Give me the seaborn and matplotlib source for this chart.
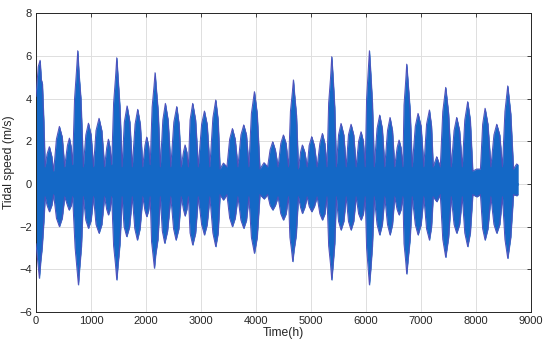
import matplotlib
matplotlib.use("Agg")
import matplotlib.pyplot as plt
import seaborn as sns
import pandas as pd

# envolvente superior: (hora, velocidad m/s) - valles, hombros y picos
upper_env = [
    (0, 4.1), (40, 5.5), (73, 5.8), (95, 4.9), (115, 4.7), (140, 3.0), (165, 0.8),
    (200, 1.4), (242, 1.75), (285, 1.3), (320, 0.6),
    (370, 2.1), (424, 2.7), (475, 2.2), (520, 0.8),
    (570, 1.8), (606, 2.15), (640, 1.7), (665, 0.9),
    (700, 4.0), (735, 5.3), (758, 6.25), (780, 5.2), (815, 4.0), (860, 0.8),
    (905, 2.3), (952, 2.85), (1000, 2.3), (1045, 0.8),
    (1090, 2.5), (1145, 3.08), (1195, 2.5), (1245, 0.8),
    (1285, 1.7), (1315, 2.1), (1345, 1.7), (1375, 0.9),
    (1410, 3.8), (1445, 5.0), (1467, 5.92), (1490, 5.0), (1525, 3.6), (1565, 0.8),
    (1605, 2.9), (1655, 3.66), (1705, 2.9), (1750, 0.8),
    (1800, 2.8), (1848, 3.5), (1895, 2.8), (1940, 0.8),
    (1980, 1.8), (2012, 2.2), (2045, 1.8), (2075, 0.9),
    (2110, 3.6), (2145, 4.6), (2164, 5.22), (2185, 4.5), (2220, 3.4), (2260, 0.8),
    (2305, 3.0), (2351, 3.78), (2400, 3.0), (2450, 0.8),
    (2505, 2.9), (2558, 3.63), (2600, 2.8), (2640, 0.8),
    (2680, 1.5), (2709, 1.83), (2740, 1.5), (2770, 0.8),
    (2800, 3.0), (2848, 3.78), (2900, 3.0), (2950, 0.8),
    (3010, 2.8), (3061, 3.42), (3110, 2.8), (3160, 0.8),
    (3215, 3.1), (3267, 3.94), (3310, 3.0), (3345, 0.7),
    (3406, 0.98), (3470, 0.8),
    (3520, 2.1), (3570, 2.6), (3620, 2.1), (3670, 0.8),
    (3725, 2.3), (3776, 2.77), (3825, 2.3), (3870, 0.8),
    (3915, 3.3), (3970, 4.33), (4020, 3.3), (4070, 0.7),
    (4145, 1.0), (4210, 0.8),
    (4255, 1.6), (4303, 1.98), (4350, 1.6), (4400, 0.8),
    (4450, 1.9), (4497, 2.3), (4545, 1.9), (4590, 0.8),
    (4625, 3.4), (4660, 4.3), (4679, 4.88), (4700, 4.2), (4735, 3.2), (4770, 0.7),
    (4810, 1.5), (4842, 1.83), (4885, 1.5), (4930, 0.8),
    (4965, 1.8), (5012, 2.22), (5060, 1.8), (5110, 0.8),
    (5160, 1.9), (5206, 2.37), (5250, 1.9), (5290, 0.8),
    (5320, 3.8), (5355, 5.0), (5376, 5.97), (5400, 5.0), (5430, 3.6), (5460, 0.8),
    (5500, 2.3), (5545, 2.84), (5595, 2.3), (5640, 0.8),
    (5680, 2.3), (5727, 2.8), (5775, 2.3), (5820, 0.8),
    (5865, 2.0), (5909, 2.45), (5950, 2.0), (5985, 0.8),
    (6010, 4.0), (6040, 5.3), (6061, 6.25), (6085, 5.2), (6115, 3.8), (6150, 0.8),
    (6200, 2.6), (6248, 3.23), (6295, 2.6), (6340, 0.8),
    (6390, 2.5), (6436, 3.12), (6480, 2.5), (6520, 0.8),
    (6565, 1.7), (6600, 2.06), (6635, 1.7), (6670, 0.8),
    (6690, 3.7), (6720, 4.8), (6739, 5.62), (6765, 4.7), (6800, 3.5), (6840, 0.8),
    (6895, 2.7), (6945, 3.31), (7000, 2.7), (7050, 0.8),
    (7100, 2.8), (7152, 3.47), (7190, 2.7), (7220, 0.8),
    (7285, 1.28), (7350, 0.8),
    (7395, 3.4), (7448, 4.53), (7500, 3.3), (7550, 0.8),
    (7600, 2.5), (7648, 3.12), (7700, 2.5), (7750, 0.8),
    (7795, 3.0), (7848, 3.86), (7895, 3.0), (7940, 0.6),
    (8012, 0.7), (8080, 0.7),
    (8120, 2.8), (8164, 3.55), (8215, 2.8), (8270, 0.8),
    (8325, 2.3), (8376, 2.8), (8430, 2.3), (8480, 0.8),
    (8525, 3.4), (8576, 4.6), (8630, 3.3), (8680, 0.7),
    (8739, 0.94), (8760, 0.9),
]

# envolvente inferior
lower_env = [
    (0, -2.8), (30, -3.6), (60, -4.42), (85, -3.6), (110, -3.0), (140, -1.8), (165, -0.6),
    (200, -1.0), (242, -1.3), (285, -1.0), (320, -0.5),
    (370, -1.6), (424, -2.0), (475, -1.6), (520, -0.6),
    (570, -1.0), (600, -1.22), (640, -1.0), (665, -0.6),
    (710, -3.0), (745, -4.0), (770, -4.73), (790, -4.0), (825, -2.9), (860, -0.6),
    (905, -1.7), (952, -2.08), (1000, -1.7), (1045, -0.6),
    (1090, -1.9), (1145, -2.31), (1195, -1.9), (1245, -0.6),
    (1285, -1.2), (1315, -1.45), (1345, -1.2), (1375, -0.6),
    (1410, -2.9), (1445, -3.8), (1467, -4.5), (1490, -3.8), (1525, -2.8), (1565, -0.6),
    (1600, -2.0), (1648, -2.47), (1700, -2.0), (1750, -0.6),
    (1795, -2.1), (1842, -2.63), (1890, -2.1), (1940, -0.6),
    (1980, -1.25), (2012, -1.53), (2045, -1.25), (2075, -0.6),
    (2100, -2.7), (2130, -3.4), (2152, -3.95), (2175, -3.3), (2215, -2.6), (2260, -0.6),
    (2295, -2.2), (2339, -2.78), (2390, -2.2), (2450, -0.6),
    (2500, -2.1), (2545, -2.63), (2595, -2.1), (2640, -0.6),
    (2680, -1.2), (2709, -1.5), (2740, -1.2), (2770, -0.6),
    (2800, -2.3), (2848, -2.86), (2900, -2.3), (2950, -0.6),
    (3010, -1.9), (3061, -2.39), (3110, -1.9), (3160, -0.6),
    (3215, -2.3), (3267, -2.94), (3310, -2.3), (3345, -0.5),
    (3406, -0.75), (3470, -0.5),
    (3520, -1.6), (3570, -2.0), (3620, -1.6), (3670, -0.6),
    (3725, -1.7), (3776, -2.08), (3825, -1.7), (3870, -0.6),
    (3915, -2.5), (3970, -3.25), (4020, -2.5), (4070, -0.5),
    (4145, -0.7), (4210, -0.5),
    (4255, -1.0), (4303, -1.22), (4350, -1.0), (4400, -0.6),
    (4450, -1.4), (4497, -1.69), (4545, -1.4), (4590, -0.6),
    (4615, -2.5), (4645, -3.1), (4667, -3.64), (4690, -3.1), (4730, -2.4), (4770, -0.6),
    (4810, -1.1), (4842, -1.38), (4885, -1.1), (4930, -0.6),
    (4965, -1.05), (5012, -1.3), (5060, -1.05), (5110, -0.6),
    (5160, -1.4), (5206, -1.69), (5250, -1.4), (5290, -0.6),
    (5320, -2.9), (5355, -3.8), (5376, -4.5), (5400, -3.8), (5430, -2.8), (5460, -0.6),
    (5500, -1.75), (5545, -2.16), (5595, -1.75), (5640, -0.6),
    (5680, -1.75), (5727, -2.16), (5775, -1.75), (5820, -0.6),
    (5865, -1.4), (5909, -1.69), (5950, -1.4), (5985, -0.6),
    (6010, -3.0), (6040, -4.0), (6061, -4.73), (6085, -4.0), (6115, -2.9), (6150, -0.6),
    (6200, -1.9), (6248, -2.39), (6295, -1.9), (6340, -0.6),
    (6390, -1.9), (6436, -2.39), (6480, -1.9), (6520, -0.6),
    (6565, -1.2), (6600, -1.45), (6635, -1.2), (6670, -0.6),
    (6690, -2.8), (6720, -3.6), (6739, -4.22), (6765, -3.5), (6800, -2.6), (6840, -0.6),
    (6895, -1.9), (6945, -2.39), (7000, -1.9), (7050, -0.6),
    (7100, -2.1), (7152, -2.63), (7190, -2.0), (7220, -0.6),
    (7285, -0.83), (7350, -0.5),
    (7395, -2.6), (7448, -3.44), (7500, -2.5), (7550, -0.6),
    (7600, -1.9), (7648, -2.31), (7700, -1.9), (7750, -0.6),
    (7795, -2.3), (7848, -2.94), (7895, -2.3), (7940, -0.5),
    (8012, -0.6), (8080, -0.5),
    (8120, -2.1), (8164, -2.63), (8215, -2.1), (8270, -0.6),
    (8325, -1.9), (8376, -2.31), (8430, -1.9), (8480, -0.6),
    (8525, -2.6), (8576, -3.49), (8630, -2.5), (8680, -0.5),
    (8739, -0.55), (8760, -0.5),
]

x_ticks = [0, 1000, 2000, 3000, 4000, 5000, 6000, 7000, 8000, 9000]
y_ticks = [-6, -4, -2, 0, 2, 4, 6, 8]

sns.set_theme(style="whitegrid")
plt.rcParams["font.family"] = ["Liberation Sans", "DejaVu Sans"]

up = pd.DataFrame(upper_env, columns=["hora", "vel"])
lo = pd.DataFrame(lower_env, columns=["hora", "vel"])

fig = plt.figure(figsize=(5.5, 3.52), dpi=100)
ax = fig.add_axes([0.0655, 0.114, 0.90, 0.848])

blue = "#1468c6"
edge = "#5050bc"
# dos rellenos (arriba/abajo de cero) con borde del mismo color para no dejar costura
ax.fill_between(up["hora"], -0.05, up["vel"], color=blue, edgecolor=blue,
                linewidth=0.4, zorder=2)
ax.fill_between(lo["hora"], lo["vel"], 0.05, color=blue, edgecolor=blue,
                linewidth=0.4, zorder=2)
sns.lineplot(data=up, x="hora", y="vel", estimator=None, sort=False,
             color=edge, linewidth=0.7, ax=ax, zorder=3)
sns.lineplot(data=lo, x="hora", y="vel", estimator=None, sort=False,
             color=edge, linewidth=0.7, ax=ax, zorder=3)

ax.set_xlim(0, 9000)
ax.set_ylim(-6, 8)
ax.set_xticks(x_ticks)
ax.set_yticks(y_ticks)
ax.grid(True, color="#dedede", linewidth=0.7)
ax.set_axisbelow(True)
for s in ax.spines.values():
    s.set_color("#262626")
    s.set_linewidth(0.7)
ax.tick_params(direction="in", length=3, width=0.6, colors="#262626",
               labelsize=8, top=True, right=True, pad=3)
ax.set_xlabel("Time(h)", fontsize=8.7, color="#262626", labelpad=1)
ax.set_ylabel("Tidal speed (m/s)", fontsize=8.7, color="#262626", labelpad=3)

fig.savefig("out.png", dpi=100)
